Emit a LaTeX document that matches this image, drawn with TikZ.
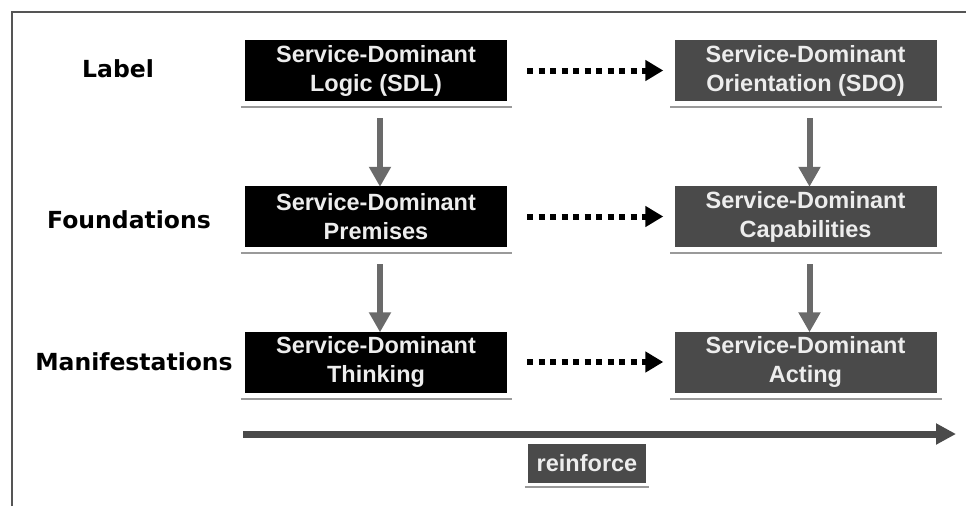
\documentclass[tikz,border=0pt]{standalone}
\usepackage{fontspec}
\setmainfont{Liberation Sans}
\newfontfamily\labelfont{DejaVu Sans}
\usetikzlibrary{arrows.meta,calc}

\definecolor{sdoGray}{HTML}{4A4A4A}
\definecolor{flowGray}{HTML}{6A6A6A}
\definecolor{shelfGray}{HTML}{9A9A9A}
\definecolor{frameGray}{HTML}{555555}
\definecolor{boxText}{HTML}{EDEDED}

\tikzset{
  rowlabel/.style={font=\labelfont\bfseries\fontsize{23.5}{28}\selectfont, text=black, inner sep=0pt},
  sdbox/.style={minimum width=262pt, minimum height=61pt, inner sep=0pt, align=center,
    text=boxText, font=\bfseries\fontsize{23.5}{29}\selectfont},
  logicbox/.style={sdbox, fill=black},
  orientbox/.style={sdbox, fill=sdoGray},
  shelf/.style={draw=shelfGray, line width=2pt},
  flowdown/.style={draw=flowGray, line width=6pt, -{Triangle[width=21pt,length=20pt]}},
  dotflow/.style={draw=black, line width=6pt, dash pattern=on 6pt off 5.5pt, -{Triangle[width=20pt,length=18pt]}},
  reinforcearrow/.style={draw=sdoGray, line width=7pt, -{Triangle[width=20pt,length=20pt]}}
}

\begin{document}
\begin{tikzpicture}[x=1pt,y=-1pt]
  \useasboundingbox (0,0) rectangle (966,506);

  % frame edges
  \draw[frameGray, line width=2pt] (12,506) -- (12,12) -- (966,12);

  % row labels
  \node[rowlabel] (lab1) at (118,69) {Label};
  \node[rowlabel] (lab2) at (129,220) {Foundations};
  \node[rowlabel] (lab3) at (134,362) {Manifestations};

  % logic column
  \node[logicbox] (sdl) at (376,70.5) {Service-Dominant\\Logic (SDL)};
  \node[logicbox] (sdp) at (376,216.5) {Service-Dominant\\Premises};
  \node[logicbox] (sdt) at (376,362) {Service-Dominant\\Thinking};

  % orientation column
  \node[orientbox] (sdo) at (805.5,70.5) {Service-Dominant\\Orientation (SDO)};
  \node[orientbox] (sdc) at (805.5,216.5) {Service-Dominant\\Capabilities};
  \node[orientbox] (sda) at (805.5,362) {Service-Dominant\\Acting};

  % shelves under the boxes
  \foreach \b in {sdl,sdp,sdt,sdo,sdc,sda}{
    \draw[shelf] ([xshift=-4pt,yshift=-6pt]\b.south west) -- ([xshift=5pt,yshift=-6pt]\b.south east);
  }

  % vertical flows
  \draw[flowdown] ([xshift=4pt,yshift=-17pt]sdl.south) -- ([xshift=4pt,yshift=-1pt]sdp.north);
  \draw[flowdown] ([xshift=4pt,yshift=-17pt]sdp.south) -- ([xshift=4pt,yshift=-1pt]sdt.north);
  \draw[flowdown] ([xshift=4pt,yshift=-17pt]sdo.south) -- ([xshift=4pt,yshift=-1pt]sdc.north);
  \draw[flowdown] ([xshift=4pt,yshift=-17pt]sdc.south) -- ([xshift=4pt,yshift=-1pt]sda.north);

  % dotted links between columns
  \draw[dotflow] ([xshift=20pt]sdl.east) -- ([xshift=-11pt]sdo.west);
  \draw[dotflow] ([xshift=20pt]sdp.east) -- ([xshift=-11pt]sdc.west);
  \draw[dotflow] ([xshift=20pt]sdt.east) -- ([xshift=-11pt]sda.west);

  % reinforce arrow and tag
  \coordinate (rstart) at (243,434);
  \coordinate (rend) at (956,434);
  \draw[reinforcearrow] (rstart) -- (rend);
  \node[fill=sdoGray, text=boxText, font=\bfseries\fontsize{23.5}{28}\selectfont,
        minimum width=118pt, minimum height=39pt, inner sep=0pt] (rtag) at (587,463.5) {reinforce};
  \draw[shelf] ([xshift=-3pt,yshift=-4pt]rtag.south west) -- ([xshift=3pt,yshift=-4pt]rtag.south east);
\end{tikzpicture}
\end{document}
